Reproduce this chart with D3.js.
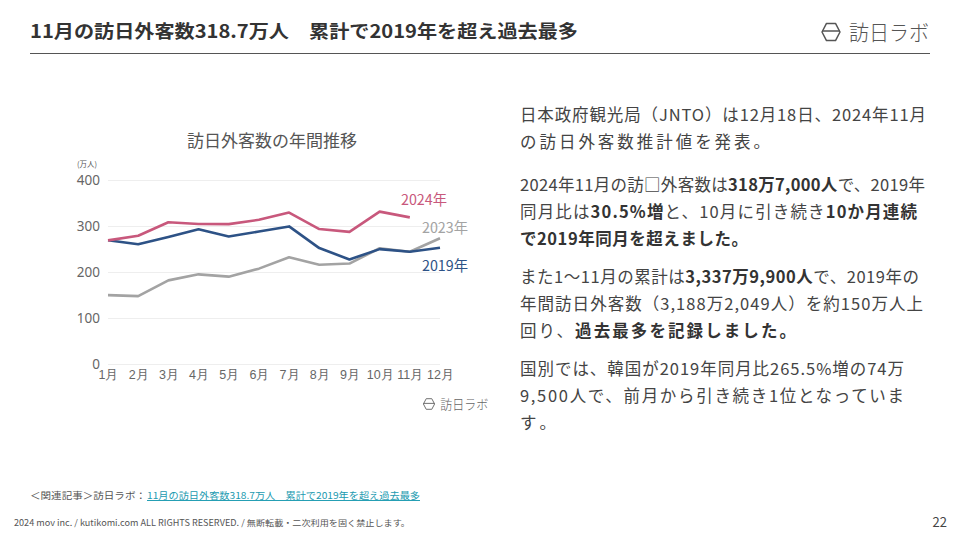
<!DOCTYPE html>
<html><head><meta charset="utf-8">
<script src="https://cdn.jsdelivr.net/npm/d3@7"></script>
<style>
html,body{margin:0;padding:0;background:#fff;}
svg{display:block;font-family:"Noto Sans CJK JP","Noto Sans",sans-serif;}
</style></head>
<body>
<svg id="c" width="960" height="540"></svg>
<script>
const months = ["1月","2月","3月","4月","5月","6月","7月","8月","9月","10月","11月","12月"];
const v2024 = [268.8,278.9,308.2,304.3,304.0,313.5,329.2,293.4,287.2,331.2,318.7];
const v2023 = [149.7,147.5,181.8,194.9,189.9,207.3,232.0,215.6,218.4,251.6,244.1,273.4];
const v2019 = [268.9,260.4,276.1,292.7,277.3,288.0,299.1,252.0,227.3,249.7,244.1,252.6];
const yTicks = [0,100,200,300,400];
const seriesNames = ["2024年","2023年","2019年"];

const svg = d3.select("#c");
const txt = "#444";

// header
svg.append("text").attr("x",30).attr("y",38).attr("font-size",18).attr("font-weight",700)
  .attr("fill","#333").attr("textLength",548).attr("lengthAdjust","spacingAndGlyphs")
  .text("11月の訪日外客数318.7万人　累計で2019年を超え過去最多");
svg.append("line").attr("x1",30).attr("x2",930).attr("y1",53.5).attr("y2",53.5).attr("stroke","#555").attr("stroke-width",1);

function logo(g, x, y, s, col, tw){
  const r = 9*s;
  const pts = [[-r,0],[-r/2,-r*0.95],[r/2,-r*0.95],[r,0],[r/2,r*0.95],[-r/2,r*0.95]];
  g.append("polygon").attr("points",pts.map(p=>[x+p[0],y+p[1]].join(",")).join(" "))
    .attr("fill","none").attr("stroke",col).attr("stroke-width",1.5*s).attr("stroke-linejoin","round");
  g.append("line").attr("x1",x-r).attr("x2",x+r).attr("y1",y-1*s).attr("y2",y-1*s).attr("stroke",col).attr("stroke-width",1.5*s);
  g.append("text").attr("x",x+r+9*s).attr("y",y+7.5*s).attr("font-size",21*s).attr("font-weight",300)
    .attr("fill",col).attr("textLength",tw).attr("lengthAdjust","spacingAndGlyphs").text("訪日ラボ");
}
logo(svg, 831, 32, 1, "#555", 80);

// chart
const x = d3.scalePoint().domain(months).range([108,440]);
const y = d3.scaleLinear().domain([0,400]).range([364,180]);

svg.append("text").attr("x",272).attr("y",147).attr("text-anchor","middle").attr("font-size",17)
  .attr("fill","#555").text("訪日外客数の年間推移");
svg.append("text").attr("x",77).attr("y",167).attr("font-size",7.5).attr("fill","#555").text("(万人)");

const gy = svg.append("g").attr("transform","translate(108,0)")
  .call(d3.axisLeft(y).tickValues(yTicks).tickSize(-332).tickPadding(8));
gy.select(".domain").remove();
gy.selectAll(".tick line").attr("stroke","#eeeeee");
gy.selectAll(".tick text").attr("font-size",13.5).attr("fill","#666").attr("font-family","Noto Sans, sans-serif");

const gx = svg.append("g").attr("transform","translate(0,364)")
  .call(d3.axisBottom(x).tickSize(0).tickPadding(6));
gx.select(".domain").remove();
gx.selectAll(".tick text").attr("font-size",12.5).attr("fill","#666");

const line = d3.line().x((d,i)=>x(months[i])).y(d=>y(d));
const series = [
  {name:seriesNames[1], data:v2023, color:"#a3a3a3", lx:422, ly:233},
  {name:seriesNames[2], data:v2019, color:"#2d5286", lx:422, ly:271},
  {name:seriesNames[0], data:v2024, color:"#c8587c", lx:401, ly:205}
];
series.forEach(s=>{
  svg.append("path").datum(s.data).attr("d",line).attr("fill","none")
    .attr("stroke",s.color).attr("stroke-width",2.6).attr("stroke-linejoin","round");
});
series.forEach(s=>{
  svg.append("text").attr("x",s.lx).attr("y",s.ly).attr("font-size",14.5).attr("fill",s.color)
    .attr("textLength",46).attr("lengthAdjust","spacingAndGlyphs").text(s.name);
});
logo(svg, 429, 404, 0.62, "#666", 48);

// paragraphs
const paras = [
  [["日本政府観光局（JNTO）は12月18日、2024年11月",0]],
  [["の訪日外客数推計値を発表。",0]],
  [["2024年11月の訪□外客数は",0],["318万7,000人",1],["で、2019年",0]],
  [["同月比は",0],["30.5%増",1],["と、10月に引き続き",0],["10か月連続",1]],
  [["で2019年同月を超えました。",1]],
  [["また1〜11月の累計は",0],["3,337万9,900人",1],["で、2019年の",0]],
  [["年間訪日外客数（3,188万2,049人）を約150万人上",0]],
  [["回り、",0],["過去最多を記録しました。",1]],
  [["国別では、韓国が2019年同月比265.5%増の74万",0]],
  [["9,500人で、前月から引き続き1位となっていま",0]],
  [["す。",0]]
];
const ys = [121,148,191,218,245,283,310,337,375,402,429];
const widths = [406,250,405,397,228,399,403,276,384,384,36];
paras.forEach((p,i)=>{
  const t = svg.append("text").attr("x",520).attr("y",ys[i]).attr("font-size",16.5).attr("fill",txt)
    .attr("textLength",widths[i]).attr("lengthAdjust","spacing");
  p.forEach(seg=>{
    t.append("tspan").attr("font-weight",seg[1]?700:400).attr("fill",seg[1]?"#333":txt).text(seg[0]);
  });
});

// footer
svg.append("text").attr("x",30).attr("y",499).attr("font-size",9.5).attr("fill","#555")
  .attr("textLength",116).attr("lengthAdjust","spacingAndGlyphs").text("＜関連記事＞訪日ラボ：");
svg.append("text").attr("x",147).attr("y",499).attr("font-size",9.5).attr("fill","#1a9ab0")
  .attr("text-decoration","underline").attr("textLength",273).attr("lengthAdjust","spacingAndGlyphs")
  .text("11月の訪日外客数318.7万人　累計で2019年を超え過去最多");
svg.append("text").attr("x",14).attr("y",526).attr("font-size",8.5).attr("fill","#555")
  .attr("textLength",396).attr("lengthAdjust","spacingAndGlyphs")
  .text("2024 mov inc. / kutikomi.com ALL RIGHTS RESERVED. / 無断転載・二次利用を固く禁止します。");
svg.append("text").attr("x",947).attr("y",527).attr("text-anchor","end").attr("font-size",13).attr("fill","#444").text("22");
</script>
</body></html>
